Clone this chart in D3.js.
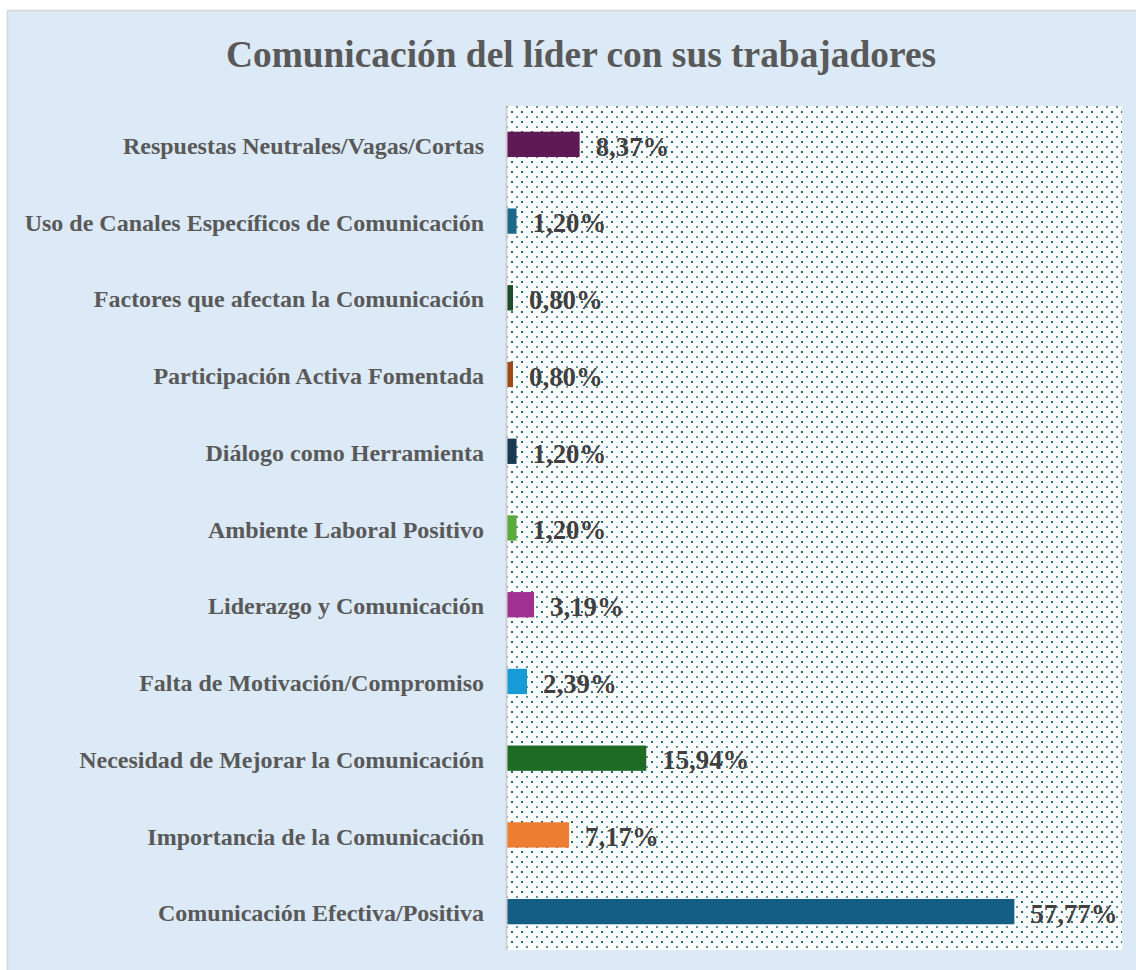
<!DOCTYPE html>
<html><head><meta charset="utf-8">
<script src="https://cdn.jsdelivr.net/npm/d3@7"></script>
<style>html,body{margin:0;padding:0;background:#fff;}svg{display:block;}</style>
</head><body>
<script>
const categories = [
  "Respuestas Neutrales/Vagas/Cortas",
  "Uso de Canales Específicos de Comunicación",
  "Factores que afectan la Comunicación",
  "Participación Activa Fomentada",
  "Diálogo como Herramienta",
  "Ambiente Laboral Positivo",
  "Liderazgo y Comunicación",
  "Falta de Motivación/Compromiso",
  "Necesidad de Mejorar la Comunicación",
  "Importancia de la Comunicación",
  "Comunicación Efectiva/Positiva"
];
const values = [8.37, 1.20, 0.80, 0.80, 1.20, 1.20, 3.19, 2.39, 15.94, 7.17, 57.77];
const barColors = ["#5f1a55","#1c6a8a","#1e4d2b","#9e4a1a","#173a52","#5aab3b","#a03193","#179bd7","#1e6b24","#ed7d31","#135e82"];
const titleText = "Comunicación del líder con sus trabajadores";

const W = 1136, H = 970;
const svg = d3.select("body").append("svg").attr("width", W).attr("height", H);

const defs = svg.append("defs");
const pat = defs.append("pattern").attr("id","dots").attr("patternUnits","userSpaceOnUse")
  .attr("width",10).attr("height",10);
pat.append("rect").attr("width",10).attr("height",10).attr("fill","#ffffff");
pat.append("rect").attr("x",1).attr("y",1).attr("width",2).attr("height",2).attr("fill","#1b6a8c");
pat.append("rect").attr("x",6).attr("y",6).attr("width",2).attr("height",2).attr("fill","#5a93b0");

// panel
svg.append("rect").attr("x",7.5).attr("y",10.5).attr("width",W).attr("height",H)
  .attr("fill","#dce9f6").attr("stroke","#d6d6d6").attr("stroke-width",1.5);

// title
svg.append("text").attr("x",581).attr("y",67).attr("text-anchor","middle")
  .attr("font-family","'Liberation Serif', 'Times New Roman', serif").attr("font-weight","bold")
  .attr("font-size",37.4).attr("fill","#595959").text(titleText);

const pLeft = 506, pRight = 1122, pTop = 106, pBottom = 950;
const x = d3.scaleLinear().domain([0,70]).range([pLeft,pRight]);
const y = d3.scaleBand().domain(categories).range([pTop,pBottom]).paddingInner(0.67).paddingOuter(0.335);

// plot area
svg.append("rect").attr("x",pLeft).attr("y",pTop).attr("width",pRight-pLeft).attr("height",pBottom-pTop)
  .attr("fill","url(#dots)");

// bars
svg.append("g").selectAll("rect").data(categories).join("rect")
  .attr("x", x(0)).attr("y", d => y(d))
  .attr("width", (d,i) => x(values[i]) - x(0))
  .attr("height", y.bandwidth())
  .attr("fill", (d,i) => barColors[i]);

// axis
const yAxis = d3.axisLeft(y).tickSize(0).tickPadding(22);
const ag = svg.append("g").attr("transform",`translate(${pLeft},0)`).call(yAxis);
ag.select(".domain").attr("stroke","#d0d0d0").attr("stroke-width",2);
ag.selectAll("text").attr("font-family","'Liberation Serif', 'Times New Roman', serif")
  .attr("font-weight","bold").attr("font-size",24).attr("fill","#595959").attr("dy","0.4em");

// value labels
svg.append("g").selectAll("text").data(categories).join("text")
  .attr("x", (d,i) => x(values[i]) + 16)
  .attr("y", d => y(d) + y.bandwidth()/2)
  .attr("dy","0.42em")
  .attr("font-family","'Liberation Serif', 'Times New Roman', serif")
  .attr("font-weight","bold").attr("font-size",26.8).attr("fill","#404040")
  .text((d,i) => values[i].toFixed(2).replace(".", ",") + "%");
</script>
</body></html>
